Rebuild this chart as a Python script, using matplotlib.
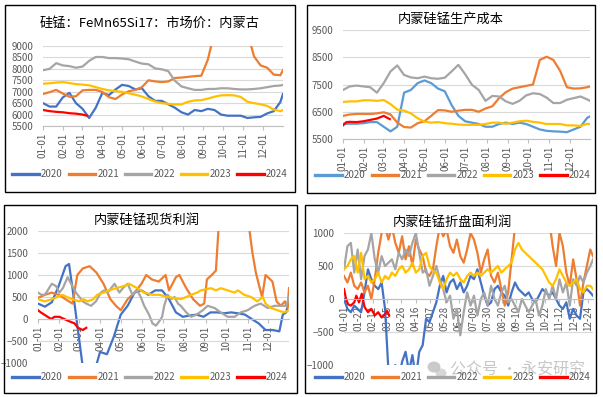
import pandas as pd
import matplotlib
matplotlib.use("Agg")
import matplotlib.pyplot as plt
from matplotlib.patches import Rectangle, Ellipse
from matplotlib.lines import Line2D

plt.rcParams['font.family'] = ['Noto Sans CJK SC', 'DejaVu Sans']

W, H = 603, 397

# --- Daten ---
years = ['2020', '2021', '2022', '2023', '2024']
colors = ['#4472C4', '#ED7D31', '#A5A5A5', '#FFC000', '#FF0000']
colors_cost = ['#5B9BD5', '#ED7D31', '#A5A5A5', '#FFC000', '#FF0000']

titles = ['硅锰：FeMn65Si17：市场价：内蒙古', '内蒙硅锰生产成本', '内蒙硅锰现货利润', '内蒙硅锰折盘面利润']
month_labels = ['01-01', '02-01', '03-01', '04-01', '05-01', '06-01',
                '07-01', '08-01', '09-01', '10-01', '11-01', '12-01']
week_labels = ['01-01', '01-22', '02-12', '03-05', '03-26', '04-16', '05-07', '05-28', '06-18',
               '07-09', '07-30', '08-20', '09-10', '10-01', '10-22', '11-12', '12-03', '12-24']

days10 = list(range(0, 361, 10)) + [364]
days5 = list(range(0, 361, 5)) + [364]

# Panel 1: Marktpreis
p1_2020 = [6500, 6350, 6350, 6750, 6950, 6500, 6250, 5850, 6300, 6950, 6850, 7100, 7300, 7250, 7100, 7150, 6800, 6600, 6600,
           6450, 6300, 6100, 6000, 6200, 6150, 6250, 6200, 6000, 5950, 5950, 5950, 5850, 5880, 5900, 6050, 6150, 6550, 6900]
p1_2021 = [6900, 6980, 7080, 6920, 6780, 6800, 7060, 7080, 7080, 6990, 6760, 6680, 6880, 7020, 7080, 7200, 7500, 7450, 7420,
           7450, 7600, 7620, 7650, 7680, 7700, 8400, 9600, 10500, 10800, 10800, 10500, 9600, 8550, 8150, 8050, 7750, 7720, 7950]
p1_2022 = [7940, 8000, 8250, 8150, 8120, 8050, 8100, 8350, 8520, 8520, 8470, 8470, 8450, 8420, 8320, 8230, 8200, 8020, 7980,
           7900, 7480, 7230, 7150, 7080, 7080, 7120, 7120, 7150, 7150, 7120, 7100, 7100, 7120, 7150, 7200, 7250, 7270, 7300]
p1_2023 = [7350, 7370, 7400, 7420, 7380, 7330, 7310, 7280, 7200, 7120, 7060, 7030, 6990, 6930, 6870, 6790, 6680, 6570, 6500,
           6470, 6440, 6450, 6560, 6620, 6630, 6700, 6780, 6840, 6850, 6840, 6770, 6560, 6500, 6450, 6380, 6220, 6150, 6200]
p1_2024_days = [0, 10, 20, 30, 40, 50, 60, 67]
p1_2024 = [6200, 6150, 6120, 6100, 6060, 6040, 6000, 5950]

# Panel 2: Produktionskosten
p2_2020 = [6060, 6060, 6060, 6080, 6120, 6120, 5950, 5780, 5950, 7200, 7300, 7550, 7650, 7550, 7350, 7250, 6750, 6350, 6150,
           6100, 6050, 5950, 5950, 6050, 6100, 6050, 6100, 6050, 5950, 5850, 5800, 5780, 5770, 5750, 5850, 5950, 6280, 6330]
p2_2021 = [6350, 6400, 6420, 6420, 6420, 6440, 6480, 6400, 6100, 5940, 5920, 6080, 6150, 6350, 6560, 6550, 6500, 6540, 6570,
           6570, 6500, 6620, 6700, 7000, 7220, 7350, 7400, 7450, 7500, 8400, 8520, 8400, 8000, 7400, 7350, 7360, 7400, 7430]
p2_2022 = [7300, 7430, 7460, 7430, 7400, 7200, 7550, 7980, 8200, 7850, 7760, 7730, 7790, 7730, 7710, 7750, 7980, 8220, 7880,
           7490, 7300, 6900, 7080, 7060, 6880, 6790, 6900, 7100, 7180, 7150, 7020, 6820, 6820, 6940, 7000, 7060, 6950, 6900]
p2_2023 = [6860, 6880, 6880, 6920, 6920, 6900, 6930, 6780, 6580, 6540, 6440, 6260, 6140, 6100, 6120, 6080, 6060, 6030, 6020,
           6020, 6020, 6050, 6100, 6100, 6060, 6100, 6150, 6170, 6130, 6100, 6050, 6050, 6050, 6000, 6000, 5980, 6060, 6050]
p2_2024_days = [0, 5, 10, 20, 30, 40, 50, 55, 60, 65, 69]
p2_2024 = [6000, 6120, 6130, 6120, 6150, 6200, 6250, 6300, 6350, 6280, 6230]

# Panel 3: Spotgewinn
p3_2020_days = [0, 10, 20, 30, 40, 45, 50, 55, 60, 65, 70, 80, 90, 100, 110, 120, 130, 140, 150, 160, 170,
                180, 190, 200, 210, 220, 230, 240, 250, 260, 270, 280, 290, 300, 310, 320, 330, 340, 350, 355, 360, 364]
p3_2020 = [350, 280, 380, 750, 1200, 1250, 700, 100, -500, -1100, -1500, -1300, -750, -800, -400, 100, 300, 600, 650, 550, 650,
           650, 450, 150, 50, 80, 100, 50, 150, 150, 130, 150, 130, 100, 0, -100, -250, -250, -280, 100, 150, 450]
p3_2021_days = [0, 10, 20, 30, 40, 50, 57, 65, 75, 85, 95, 105, 113, 120, 130, 140, 150, 157, 165, 175, 185, 190, 200,
                205, 215, 225, 235, 241, 245, 252, 258, 262, 285, 306, 311, 316, 320, 325, 330, 340, 346, 352, 358, 362, 364]
p3_2021 = [480, 550, 600, 550, 450, 350, 1000, 1150, 1200, 1050, 800, 450, 300, 200, 450, 600, 800, 1000, 900, 850, 1000, 650, 950,
           1000, 700, 450, 300, 350, 900, 1000, 1100, 2100, 3500, 2100, 1500, 1050, 800, 500, 1000, 850, 400, 300, 400, 250, 700]
p3_2022_days = [0, 5, 10, 20, 26, 31, 36, 43, 48, 55, 60, 65, 70, 77, 84, 91, 96, 101, 111, 118, 123, 130, 137, 144, 149, 154,
                161, 166, 171, 176, 180, 183, 188, 193, 198, 203, 207, 215, 222, 230, 239, 246, 256, 265, 275, 285, 294, 304,
                314, 323, 333, 343, 352, 360, 364]
p3_2022 = [600, 550, 550, 800, 750, 600, 700, 950, 800, 600, 500, 400, 350, 300, 400, 600, 650, 600, 800, 600, 700, 800, 550, 650,
           500, 300, 100, -100, -150, -50, 50, 300, 550, 450, 500, 350, 300, 150, 50, 100, 200, 300, 250, 150, 50, 50, 150, 200,
           300, 350, 250, 300, 300, 300, 500]
p3_2023_days = [0, 10, 20, 28, 35, 42, 50, 60, 66, 72, 80, 86, 95, 103, 113, 125, 132, 138, 144, 154, 166, 176, 188, 207,
                215, 222, 231, 236, 251, 258, 265, 275, 285, 290, 299, 309, 318, 326, 330, 338, 347, 357, 364]
p3_2023 = [450, 400, 450, 500, 550, 500, 450, 400, 450, 400, 450, 550, 600, 650, 700, 750, 800, 750, 700, 600, 550, 550, 500, 450,
           500, 550, 600, 650, 700, 650, 700, 650, 600, 650, 550, 500, 400, 500, 350, 250, 200, 150, 200]
p3_2024_days = [0, 4, 9, 14, 19, 24, 31, 38, 45, 53, 58, 65, 70]
p3_2024 = [200, 150, 100, 50, 0, 50, 50, 0, -50, -100, -200, -250, -200]

# Panel 4: Gewinn auf Futures-Basis
p4_2020 = [0, -150, -200, -100, -150, -200, 100, 450, 300, 200,
           150, 250, -150, -1100, -1300, -1000, -1200, -950, -800, -1100,
           -850, -1200, -800, -700, -300, -350, -200, -50, 200, 350,
           100, 250, 300, 150, 250, 100, 200, 350, 300, 450,
           250, 50, -100, -50, 150, 200, 100, 50, -100, 100,
           250, 150, 100, 50, 100, 0, -50, 50, 150, 100,
           50, 100, 0, -100, -150, -50, -300, -150, -250, -300,
           100, 150, 100, 50]
p4_2021 = [350, 250, 400, 200, 150, 250, 100, 200, 0, 300,
           700, 1000, 1100, 900, 1100, 850, 700, 950, 600, 800,
           500, 900, 750, 650, 400, 350, 450, 800, 1100, 950,
           1050, 800, 700, 900, 650, 550, 750, 1000, 900, 700,
           400, 600, 750, 350, 250, 400, 150, -100, 100, 600,
           1100, 1200, 1300, 1200, 1300, 1250, 1100, 1200, 1300, 1100,
           1200, 800, 500, 1000, 800, 400, 200, 600, 300, -100,
           250, 500, 750, 650]
p4_2022 = [450, 800, 850, 400, 750, 300, 650, 750, 1000, 600,
           400, 650, 500, 550, 600, 450, 700, 600, 750, 650,
           850, 1000, 700, 400, 450, 200, 350, 500, 300, 150,
           -50, 50, -300, -150, -550, -200, 100, -100, 50, -250,
           0, 100, -100, 200, 0, -100, 100, 200, -50, 0,
           -100, -200, 0, -100, -200, -100, 0, -250, -100, 150,
           0, 200, 0, 300, 100, 250, -100, 300, 200, 350,
           250, 400, 500, 600]
p4_2023 = [450, 500, 600, 650, 400, 700, 300, 350, 250, 300,
           400, 250, 350, 300, 400, 350, 450, 500, 400, 450,
           550, 400, 450, 650, 700, 500, 420, 400, 250, 150,
           300, 400, 350, 400, 300, 250, 350, 400, 350, 400,
           350, 400, 450, 400, 450, 500, 400, 450, 500, 550,
           750, 850, 750, 700, 650, 600, 550, 500, 450, 350,
           250, 200, 300, 450, 350, 250, 200, 250, 300, 150,
           100, 200, 200, 150]
p4_2024_days = [0, 3, 6, 10, 15, 18, 22, 26, 30, 35, 40, 45, 50, 55, 60, 63, 66]
p4_2024 = [150, 0, -80, -100, -50, 50, -50, 80, -120, -200, -150, -250, -200, -280, -230, -180, -250]


def doy(lbl):
    return pd.Timestamp('2021-' + lbl).dayofyear - 1


def px_axes(fig, x0, y0, x1, y1):
    return fig.add_axes([x0 / W, 1 - y1 / H, (x1 - x0) / W, (y1 - y0) / H])


def style(ax, yticks, xlabels, zero_axis=False):
    ax.set_xlim(0, 364)
    ax.set_ylim(yticks[0], yticks[-1])
    ax.set_yticks(yticks)
    ax.yaxis.grid(True, color='#D9D9D9', lw=0.8)
    ax.set_axisbelow(True)
    for s in ['top', 'right', 'left']:
        ax.spines[s].set_visible(False)
    ax.spines['bottom'].set_color('#BFBFBF')
    if zero_axis:
        ax.spines['bottom'].set_position(('data', 0))
    ax.set_xticks([doy(l) for l in xlabels])
    ax.set_xticklabels(xlabels, rotation=90)
    ax.tick_params(axis='x', length=3, color='#BFBFBF', labelsize=7, labelcolor='#595959', pad=2)
    ax.tick_params(axis='y', length=0, labelsize=7, labelcolor='#595959', pad=7)


def frame(fig, x0, y0, x1, y1):
    fig.add_artist(Rectangle((x0 / W, 1 - y1 / H), (x1 - x0) / W, (y1 - y0) / H,
                             transform=fig.transFigure, fill=False, ec='black', lw=1))


def legend(fig, cols, cx, cy):
    handles = [Line2D([], [], color=c, lw=2.4) for c in cols]
    fig.legend(handles, years, loc='center', bbox_to_anchor=(cx / W, 1 - cy / H), ncol=5,
               frameon=False, fontsize=7, handlelength=2.7, handletextpad=0.25,
               columnspacing=0.6, labelcolor='#595959')


fig = plt.figure(figsize=(W / 100, H / 100), dpi=100)
lw = 1.6

# Panel 1
ax1 = px_axes(fig, 43, 46, 283, 126)
for vals, c in zip([p1_2020, p1_2021, p1_2022, p1_2023], colors):
    ax1.plot(days10, vals, color=c, lw=lw)
ax1.plot(p1_2024_days, p1_2024, color=colors[4], lw=lw)
style(ax1, [5500, 6000, 6500, 7000, 7500, 8000, 8500, 9000], month_labels)
frame(fig, 5, 5, 295, 192)
fig.text(150 / W, 1 - 23 / H, titles[0], ha='center', va='center', fontsize=9.5)
legend(fig, colors, 150, 174)

# Panel 2
ax2 = px_axes(fig, 343, 30, 590, 139)
for vals, c in zip([p2_2020, p2_2021, p2_2022, p2_2023], colors_cost):
    ax2.plot(days10, vals, color=c, lw=lw)
ax2.plot(p2_2024_days, p2_2024, color=colors_cost[4], lw=lw)
style(ax2, [5500, 6500, 7500, 8500, 9500], month_labels)
frame(fig, 307, 5, 595, 193)
fig.text(451 / W, 1 - 19 / H, titles[1], ha='center', va='center', fontsize=9.5)
legend(fig, colors_cost, 453, 175)

# Panel 3
ax3 = px_axes(fig, 38, 231, 289, 363)
for d, vals, c in zip([p3_2020_days, p3_2021_days, p3_2022_days, p3_2023_days, p3_2024_days],
                      [p3_2020, p3_2021, p3_2022, p3_2023, p3_2024], colors):
    ax3.plot(d, vals, color=c, lw=lw)
style(ax3, [-1000, -500, 0, 500, 1000, 1500, 2000], month_labels, zero_axis=True)
frame(fig, 4, 205, 297, 393)
fig.text(147 / W, 1 - 221 / H, titles[2], ha='center', va='center', fontsize=9.5)
legend(fig, colors, 150, 377)

# Panel 4
ax4 = px_axes(fig, 344, 233, 593, 365)
for vals, c in zip([p4_2020, p4_2021, p4_2022, p4_2023], colors):
    ax4.plot(days5, vals, color=c, lw=lw)
ax4.plot(p4_2024_days, p4_2024, color=colors[4], lw=lw)
style(ax4, [-1000, -500, 0, 500, 1000], week_labels, zero_axis=True)
frame(fig, 305, 205, 596, 393)
fig.text(452 / W, 1 - 222 / H, titles[3], ha='center', va='center', fontsize=9.5)
legend(fig, colors, 453, 377)

# Wasserzeichen (Icon + Text)
fig.add_artist(Ellipse((434 / W, 1 - 367 / H), 13 / W, 11 / H, transform=fig.transFigure,
                       color='#a8a8a8', alpha=0.6, lw=0))
fig.add_artist(Ellipse((441 / W, 1 - 373 / H), 11 / W, 9 / H, transform=fig.transFigure,
                       color='#bdbdbd', alpha=0.6, lw=0))
fig.text(518 / W, 1 - 370 / H, '公众号 · 永安研究', ha='center', va='center',
         fontsize=11.5, color='#9a9a9a', alpha=0.55)

plt.savefig('out.png', dpi=100)
plt.close()
